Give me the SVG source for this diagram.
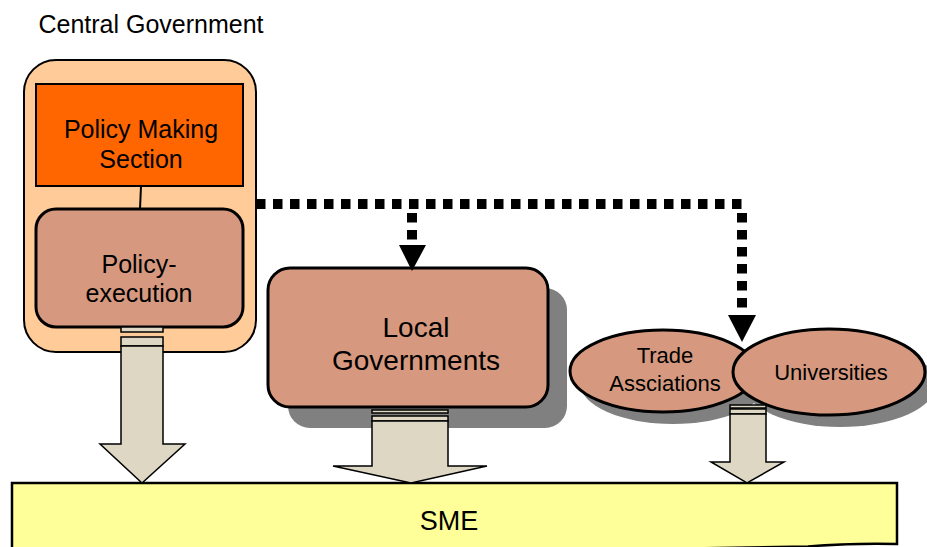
<svg xmlns="http://www.w3.org/2000/svg" width="927" height="547" viewBox="0 0 927 547">
  <style>
    text { font-family: "Liberation Sans", Arial, sans-serif; fill: #000; text-anchor: middle; }
    .shadow { fill: #808080; }
    .brown { fill: #D6997F; stroke: #000; stroke-width: 3; }
    .flow { fill: #DDD7C4; stroke: #000; stroke-width: 1.5; stroke-linejoin: miter; }
    .dots { fill: none; stroke: #000; stroke-width: 10; stroke-dasharray: 9.5 7.5; }
    .head { fill: #000; }
  </style>

  <text x="151" y="33" style="font-size:25px">Central Government</text>

  <!-- central government container with its two sections -->
  <g id="central-government">
    <rect x="24" y="60" width="232" height="292" rx="32" ry="32" fill="#FFCC99" stroke="#000" stroke-width="2"/>
  </g>
  <g id="policy-making">
    <rect x="36" y="84" width="207" height="102" fill="#FF6600" stroke="#000" stroke-width="2"/>
    <text x="141" y="138" style="font-size:25px">Policy Making</text>
    <text x="141" y="168" style="font-size:25px">Section</text>
  </g>
  <g id="policy-execution">
    <rect class="brown" x="36" y="209" width="207" height="118" rx="20" ry="20"/>
    <text x="139" y="273" style="font-size:25px">Policy-</text>
    <text x="139" y="302" style="font-size:25px">execution</text>
  </g>

  <g id="local-governments">
    <rect class="shadow" x="288" y="288" width="279" height="140" rx="22" ry="22"/>
    <rect class="brown" x="268" y="268" width="280" height="139" rx="22" ry="22"/>
    <text x="416" y="337" style="font-size:28px">Local</text>
    <text x="416" y="370" style="font-size:28px">Governments</text>
  </g>

  <g id="trade-associations">
    <ellipse class="shadow" cx="673" cy="383" rx="93" ry="41"/>
    <ellipse class="brown" cx="663" cy="371" rx="93" ry="41"/>
    <text x="665" y="363" style="font-size:22px">Trade</text>
    <text x="665" y="391" style="font-size:22px">Assciations</text>
  </g>

  <g id="universities">
    <ellipse class="shadow" cx="840" cy="384" rx="96" ry="43"/>
    <ellipse class="brown" cx="829" cy="372" rx="96" ry="43"/>
    <text x="831" y="380" style="font-size:22px">Universities</text>
  </g>

  <g id="sme">
    <path d="M12,483 H897 V544 Q850,543 808,546.5 L12,560 Z" fill="#FFFF99" stroke="#000" stroke-width="2.5"/>
    <text x="449" y="530" style="font-size:27px">SME</text>
  </g>

  <g id="connectors">
    <!-- section link -->
    <line x1="141" y1="186" x2="140" y2="209" stroke="#000" stroke-width="2"/>

    <!-- dotted influence lines -->
    <path class="dots" d="M256,204 H742"/>
    <path class="dots" d="M412,213 V246"/>
    <path class="dots" d="M742,213 V316"/>
    <polygon class="head" points="399,245 426,245 412,271"/>
    <polygon class="head" points="728,315 756,315 742,342"/>

    <!-- block arrows down to SME -->
    <g id="arrow-central">
      <rect class="flow" x="121" y="327" width="42" height="5"/>
      <rect class="flow" x="121" y="337" width="42" height="9"/>
      <polygon class="flow" points="121,346 163,346 163,444 185,444 142,483 100,444 121,444"/>
    </g>
    <g id="arrow-local">
      <rect class="flow" x="372" y="410" width="76" height="3"/>
      <rect class="flow" x="372" y="416" width="76" height="5"/>
      <polygon class="flow" points="372,421 448,421 448,466 487,466 411,483 333,466 372,466"/>
    </g>
    <g id="arrow-groups">
      <rect class="flow" x="730" y="405" width="36" height="3"/>
      <rect class="flow" x="730" y="409" width="36" height="5"/>
      <polygon class="flow" points="730,414 766,414 766,462 784,462 747,483 711,462 730,462"/>
    </g>
  </g>
</svg>
